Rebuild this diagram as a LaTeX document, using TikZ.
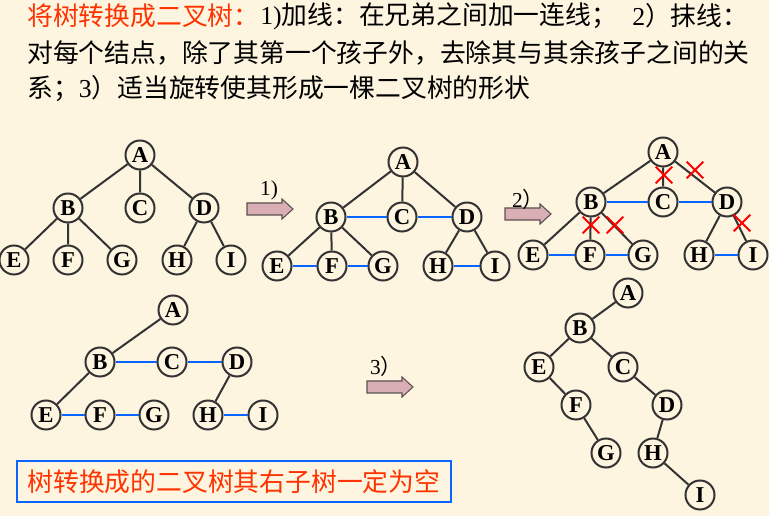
\documentclass[tikz,border=0pt]{standalone}
\usepackage{fontspec}
\setmainfont{Liberation Serif}
\newfontfamily\cjk{Noto Sans CJK SC}
\usetikzlibrary{shapes.misc}
\definecolor{bg}{RGB}{253,245,224}
\definecolor{redtxt}{RGB}{255,51,0}
\definecolor{blueln}{RGB}{10,100,255}
\definecolor{edgec}{RGB}{51,51,51}
\definecolor{arrowfill}{RGB}{217,174,180}
\definecolor{arrowline}{RGB}{90,80,80}
\begin{document}
\begin{tikzpicture}[x=0.75pt,y=-0.75pt,
  tn/.style={circle,draw=edgec,line width=1.5pt,fill=bg,minimum size=21.75pt,inner sep=0pt,font=\fontsize{17}{17}\selectfont\bfseries},
  te/.style={draw=edgec,line width=1.5pt},
  sib/.style={draw=blueln,line width=1.5pt},
  xmark/.style={cross out,draw=red,line width=1.5pt,minimum size=11pt,inner sep=0pt},
  ttl/.style={anchor=west,inner sep=0pt,font=\cjk\fontsize{19.35}{19.35}\selectfont},
  steplabel/.style={inner sep=0pt,font=\fontsize{16}{16}\selectfont},
  blockarrow/.pic={\draw[fill=arrowfill,draw=arrowline,line width=0.8pt]
     (0,-6)--(35,-6)--(35,-10)--(46,0)--(35,10)--(35,6)--(0,6)--cycle;}
]
\useasboundingbox (0,0) rectangle (769,516);
\fill[bg] (0,0) rectangle (769,516);

% title
\node[ttl,text=redtxt] (t1) at (27,16) {将树转换成二叉树：};
\node[ttl] (t1b) at (260,16) {{\rmfamily 1)}加线：在兄弟之间加一连线；};
\node[ttl] (t1c) at (632,16) {{\rmfamily 2}）抹线：};
\node[ttl] (t2) at (27,53) {对每个结点，除了其第一个孩子外，去除其与其余孩子之间的关};
\node[ttl] (t3) at (27,89) {系；{\rmfamily 3}）适当旋转使其形成一棵二叉树的形状};

% tree 1
\node[tn] (A1) at (140,155) {A};
\node[tn] (B1) at (68,208) {B};
\node[tn] (C1) at (140,208) {C};
\node[tn] (D1) at (204,208) {D};
\node[tn] (E1) at (14,260) {E};
\node[tn] (F1) at (68,260) {F};
\node[tn] (G1) at (122,260) {G};
\node[tn] (H1) at (177,260) {H};
\node[tn] (I1) at (231,260) {I};
\draw[te] (A1)--(B1) (A1)--(C1) (A1)--(D1) (B1)--(E1) (B1)--(F1) (B1)--(G1) (D1)--(H1) (D1)--(I1);

% arrow 1
\pic (arr1) at (247,209) {blockarrow};
\node[steplabel] (l1) at (269,190) {1)};

% tree 2
\node[tn] (A2) at (403,162) {A};
\node[tn] (B2) at (331,217) {B};
\node[tn] (C2) at (402,217) {C};
\node[tn] (D2) at (467,217) {D};
\node[tn] (E2) at (277,266) {E};
\node[tn] (F2) at (332,266) {F};
\node[tn] (G2) at (383,266) {G};
\node[tn] (H2) at (438,266) {H};
\node[tn] (I2) at (495,266) {I};
\draw[te] (A2)--(B2) (A2)--(C2) (A2)--(D2) (B2)--(E2) (B2)--(F2) (B2)--(G2) (D2)--(H2) (D2)--(I2);
\draw[sib] (B2)--(C2) (C2)--(D2) (E2)--(F2) (F2)--(G2) (H2)--(I2);

% arrow 2
\pic (arr2) at (505,214) {blockarrow};
\node[steplabel] (l2) at (528,199) {2{\cjk ）}};

% tree 3
\node[tn] (A3) at (663,152) {A};
\node[tn] (B3) at (591,202) {B};
\node[tn] (C3) at (663,202) {C};
\node[tn] (D3) at (727,202) {D};
\node[tn] (E3) at (533,255) {E};
\node[tn] (F3) at (590,255) {F};
\node[tn] (G3) at (643,255) {G};
\node[tn] (H3) at (699,255) {H};
\node[tn] (I3) at (753,255) {I};
\draw[te] (A3)--(B3) (A3)--(C3) (A3)--(D3) (B3)--(E3) (B3)--(F3) (B3)--(G3) (D3)--(H3) (D3)--(I3);
\draw[sib] (B3)--(C3) (C3)--(D3) (E3)--(F3) (F3)--(G3) (H3)--(I3);
\node[xmark] (x1) at (664,175) {};
\node[xmark] (x2) at (695,170) {};
\node[xmark] (x3) at (591,225) {};
\node[xmark] (x4) at (615,225) {};
\node[xmark] (x5) at (742,223) {};

% tree 4
\node[tn] (A4) at (173,310) {A};
\node[tn] (B4) at (100,362) {B};
\node[tn] (C4) at (172,362) {C};
\node[tn] (D4) at (237,362) {D};
\node[tn] (E4) at (46,415) {E};
\node[tn] (F4) at (100,415) {F};
\node[tn] (G4) at (154,415) {G};
\node[tn] (H4) at (208,415) {H};
\node[tn] (I4) at (263,415) {I};
\draw[te] (A4)--(B4) (B4)--(E4) (D4)--(H4);
\draw[sib] (B4)--(C4) (C4)--(D4) (E4)--(F4) (F4)--(G4) (H4)--(I4);

% arrow 3
\pic (arr3) at (367,387) {blockarrow};
\node[steplabel] (l3) at (386,366) {3{\cjk ）}};

% tree 5
\node[tn] (A5) at (628,293) {A};
\node[tn] (B5) at (580,328) {B};
\node[tn] (E5) at (539,367) {E};
\node[tn] (C5) at (623,367) {C};
\node[tn] (F5) at (576,405) {F};
\node[tn] (D5) at (667,405) {D};
\node[tn] (G5) at (606,453) {G};
\node[tn] (H5) at (653,453) {H};
\node[tn] (I5) at (700,495) {I};
\draw[te] (A5)--(B5) (B5)--(E5) (B5)--(C5) (E5)--(F5) (F5)--(G5) (C5)--(D5) (D5)--(H5) (H5)--(I5);

% note box
\node[draw=blueln,line width=2pt,minimum width=325.5pt,minimum height=30.75pt,inner sep=0pt,
  text=redtxt,font=\cjk\fontsize{19.35}{19.35}\selectfont] (note) at (234,481.5) {树转换成的二叉树其右子树一定为空};
\end{tikzpicture}
\end{document}
